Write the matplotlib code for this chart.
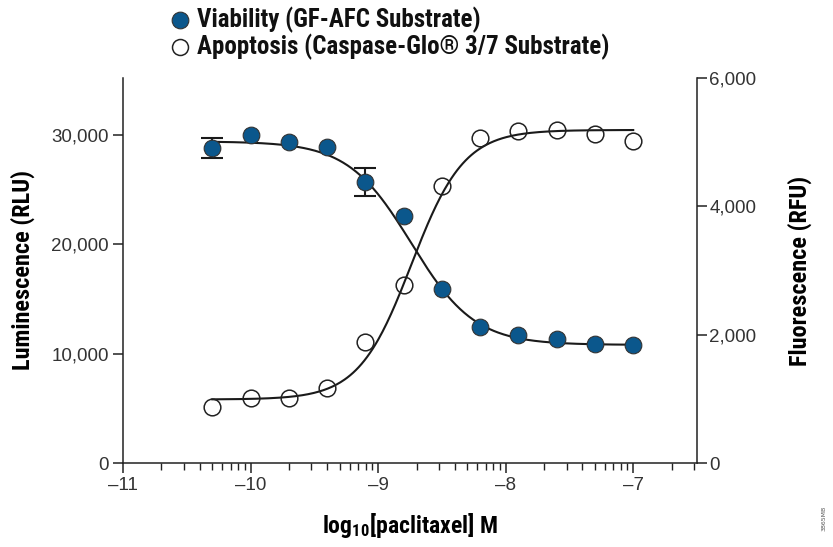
import numpy as np
import matplotlib
matplotlib.use("Agg")
import matplotlib.pyplot as plt
from matplotlib.ticker import FixedLocator, FuncFormatter
from matplotlib.lines import Line2D

# data
log_conc = [-10.3, -10.0, -9.7, -9.4, -9.1, -8.8, -8.5, -8.2, -7.9, -7.6, -7.3, -7.0]
viability_rlu = [28800, 29950, 29350, 28850, 25700, 22600, 15900, 12400, 11700, 11350, 10900, 10800]
viability_err = [950, 0, 0, 0, 1250, 0, 0, 0, 0, 0, 0, 0]
apoptosis_rfu = [880, 1010, 1020, 1170, 1880, 2770, 4310, 5070, 5170, 5190, 5120, 5020]
series_names = ["Viability (GF-AFC Substrate)", "Apoptosis (Caspase-Glo\u00ae 3/7 Substrate)"]

# fitted sigmoid parameters (top, bottom, logEC50, hill) estimated from the curves
viab_fit = (29400, 10800, -8.74, 1.75)
apop_fit = (5190, 990, -8.74, 2.1)

blue = "#0b578c"
narrow = ["Roboto Condensed", "DejaVu Sans"]
plain = ["Liberation Sans", "DejaVu Sans"]
plt.rcParams["mathtext.fontset"] = "custom"
plt.rcParams["mathtext.rm"] = "Roboto Condensed:bold"
plt.rcParams["mathtext.it"] = "Roboto Condensed:bold"
plt.rcParams["mathtext.bf"] = "Roboto Condensed:bold"

fig = plt.figure(figsize=(8.33, 5.47), dpi=100)
ax = fig.add_axes([123 / 833, 1 - 463 / 547, (697 - 123) / 833, (463 - 78) / 547])
ax2 = ax.twinx()

xs = np.linspace(log_conc[0], log_conc[-1], 300)
top, bot, c, h = viab_fit
ax.plot(xs, bot + (top - bot) / (1 + 10 ** ((xs - c) * h)), color="#1a1a1a", lw=1.5, zorder=2)
top, bot, c, h = apop_fit
ax2.plot(xs, bot + (top - bot) / (1 + 10 ** ((c - xs) * h)), color="#1a1a1a", lw=1.5, zorder=2)

err = [e if e > 0 else np.nan for e in viability_err]
ax.errorbar(log_conc, viability_rlu, yerr=err, fmt="none", ecolor="#1a1a1a",
            elinewidth=1.5, capsize=8, capthick=1.5, zorder=3)
ax.plot(log_conc, viability_rlu, "o", ms=12, mfc=blue, mec="#333333", mew=0.8, zorder=4)
ax2.plot(log_conc, apoptosis_rfu, "o", ms=12, mfc="none", mec="#222222", mew=1.1, zorder=4)

ax.set_xlim(-11, -6.5)
ax.set_ylim(0, 35200)
ax2.set_ylim(0, 6000)

ax.xaxis.set_major_locator(FixedLocator([-11, -10, -9, -8, -7]))
minor = [d + np.log10(k) for d in range(-11, -6) for k in range(2, 10)]
ax.xaxis.set_minor_locator(FixedLocator([m for m in minor if m < -6.5]))
ax.xaxis.set_major_formatter(FuncFormatter(lambda v, p: "\u2013%d" % abs(v)))
ax.set_yticks([0, 10000, 20000, 30000])
ax.yaxis.set_major_formatter(FuncFormatter(lambda v, p: "{:,.0f}".format(v)))
ax2.set_yticks([0, 2000, 4000, 6000])
ax2.yaxis.set_major_formatter(FuncFormatter(lambda v, p: "{:,.0f}".format(v)))

for a in (ax, ax2):
    a.spines["top"].set_visible(False)
    for s in a.spines.values():
        s.set_linewidth(1.1)
        s.set_color("#222222")
ax.spines["right"].set_visible(False)
ax2.spines["left"].set_visible(False)
ax2.spines["bottom"].set_visible(False)

ax.tick_params(axis="both", which="major", direction="out", length=7, width=1.1,
               color="#222222", labelsize=13.5, labelcolor="#333333", pad=3)
ax.tick_params(axis="x", which="minor", direction="out", length=5, width=1.0, color="#222222")
ax2.tick_params(axis="y", direction="out", length=7, width=1.1, color="#222222",
                labelsize=13.5, labelcolor="#333333", pad=2)
for lab in ax.get_xticklabels() + ax.get_yticklabels() + ax2.get_yticklabels():
    lab.set_family(plain)

ax.set_xlabel("log$_{10}$[paclitaxel] M", fontsize=17, fontweight="bold",
              family=narrow, labelpad=12)
ax.set_ylabel("Luminescence (RLU)", fontsize=17.5, fontweight="bold", family=narrow, labelpad=12)
ax2.set_ylabel("Fluorescence (RFU)", fontsize=17.5, fontweight="bold", family=narrow, labelpad=22)

# legend built by hand so marker and text sit where the reference has them
legend_y = [20, 47]
fig.add_artist(Line2D([180 / 833], [1 - legend_y[0] / 547], transform=fig.transFigure,
                      ls="none", marker="o", ms=12, mfc=blue, mec="#333333", mew=0.8))
fig.add_artist(Line2D([180 / 833], [1 - legend_y[1] / 547], transform=fig.transFigure,
                      ls="none", marker="o", ms=11.5, mfc="none", mec="#222222", mew=1.1))
for name, y in zip(series_names, legend_y):
    fig.text(197 / 833, 1 - y / 547, name, family=narrow, fontweight="bold", fontsize=18,
             va="center", ha="left", color="#111111")

fig.text(0.992, 0.03, "3865MB", rotation=90, fontsize=4.5, color="#555555", ha="right", va="bottom")

fig.savefig("out.png", dpi=100)
